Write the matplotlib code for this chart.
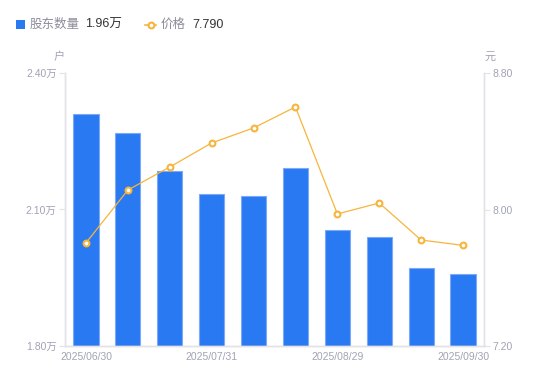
import matplotlib
matplotlib.use("Agg")
import matplotlib.pyplot as plt
from matplotlib.lines import Line2D

# latin digits in an Arial-like face, CJK falls back to Noto
plt.rcParams['font.family'] = ['Liberation Sans', 'Noto Sans CJK SC', 'DejaVu Sans']

# data
dates = ["2025/06/30", "2025/07/10", "2025/07/20", "2025/07/31", "2025/08/10",
         "2025/08/20", "2025/08/29", "2025/09/10", "2025/09/20", "2025/09/30"]
holders = [2.310, 2.268, 2.185, 2.134, 2.130, 2.191, 2.055, 2.040, 1.971, 1.958]  # 万户
price = [7.804, 8.114, 8.249, 8.390, 8.478, 8.601, 7.974, 8.038, 7.821, 7.790]
left_ticks = [1.80, 2.10, 2.40]
right_ticks = [7.20, 8.00, 8.80]

bar_color = "#2979f2"
line_color = "#f7b53b"
grey = "#a0a3b4"
spine_c = "#e3e3e6"

fig = plt.figure(figsize=(5.5, 3.81), dpi=100)
ax = fig.add_axes([65/550, 1-346/381, 419/550, 273/381])
ax2 = ax.twinx()

x = list(range(len(dates)))
ax.bar(x, holders, width=0.6, color=bar_color, edgecolor="#7eaaf5", linewidth=0.8, zorder=2)
ax.set_xlim(-0.5, len(dates)-0.5)
ax.set_ylim(1.80, 2.40)
ax.set_yticks(left_ticks)
ax.set_yticklabels([f"{v:.2f}万" for v in left_ticks])

ax2.plot(x, price, color=line_color, lw=0.9, marker="o", ms=4.2,
         mfc="white", mec=line_color, mew=1.5, zorder=3)
ax2.set_ylim(7.20, 8.80)
ax2.set_yticks(right_ticks)
ax2.set_yticklabels([f"{v:.2f}" for v in right_ticks])

ax.set_xticks([0, 3, 6, 9])
ax.set_xticklabels([dates[i] for i in [0, 3, 6, 9]])

for a in (ax, ax2):
    a.spines['top'].set_visible(False)
    for s in ('left', 'right', 'bottom'):
        a.spines[s].set_color(spine_c)
        a.spines[s].set_linewidth(1)
    a.tick_params(colors=grey, labelsize=7.5, length=4, width=0.8, pad=2)
    a.tick_params(axis='y', color=spine_c)
ax.tick_params(axis='x', length=0, pad=4)
ax.patch.set_alpha(0)

# unit labels
fig.text(59/550, 1-57/381, "户", color=grey, fontsize=8, ha="center", va="center")
fig.text(490/550, 1-57/381, "元", color=grey, fontsize=8, ha="center", va="center")

# legend row
fig.patches.append(plt.Rectangle((16/550, 1-29/381), 9/550, 9/381, transform=fig.transFigure,
                                 facecolor=bar_color, edgecolor="none"))
fig.text(30/550, 1-24.5/381, "股东数量", color="#8a8d9a", fontsize=9, va="center")
fig.text(85/550, 1-24.5/381, "1.96万", color="#333333", fontsize=9, va="center")
fig.lines.append(Line2D([145/550, 156/550], [1-24.5/381]*2, transform=fig.transFigure,
                        color=line_color, lw=1.2))
fig.lines.append(Line2D([150.5/550], [1-24.5/381], transform=fig.transFigure,
                        color=line_color, marker="o", ms=4.2, mfc="white", mew=1.5))
fig.text(161/550, 1-24.5/381, "价格", color="#8a8d9a", fontsize=9, va="center")
fig.text(192/550, 1-24.5/381, "7.790", color="#333333", fontsize=9, va="center")

fig.savefig("out.png", dpi=100)
